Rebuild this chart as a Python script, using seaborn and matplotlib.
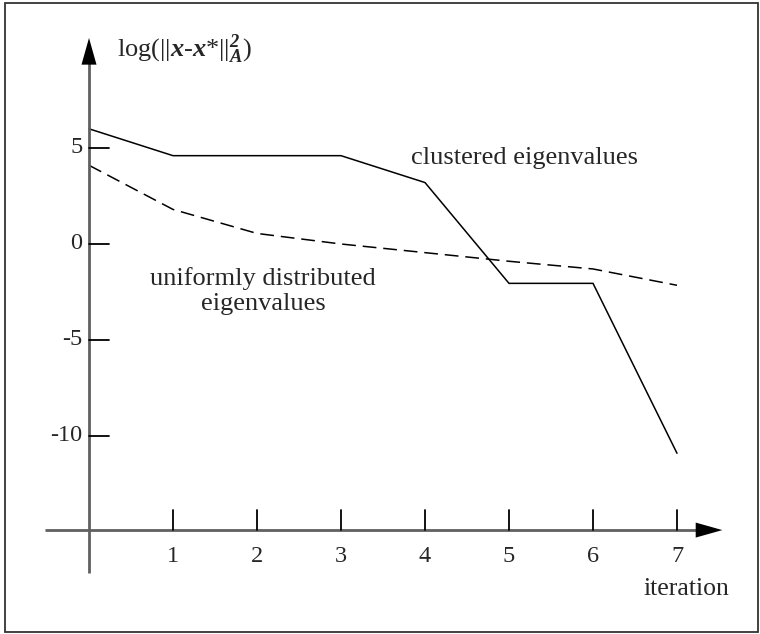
import matplotlib
matplotlib.use("Agg")
import matplotlib.pyplot as plt
from matplotlib.patches import Rectangle
import seaborn as sns
import pandas as pd

# Convergence of the error norm per iteration for two eigenvalue distributions
iterations = [0, 1, 2, 3, 4, 5, 6, 7]
clustered = [6.0, 4.6, 4.6, 4.6, 3.2, -2.05, -2.05, -10.9]
uniform = [4.1, 1.8, 0.55, 0.0, -0.45, -0.9, -1.3, -2.15]

x_ticks = [1, 2, 3, 4, 5, 6, 7]
y_ticks = [5, 0, -5, -10]
y_tick_labels = ["5", "0", "-5", "-10"]

sns.set_theme(style="white")
plt.rcParams["font.family"] = ["Liberation Serif", "DejaVu Serif"]
plt.rcParams["mathtext.fontset"] = "custom"
plt.rcParams["mathtext.rm"] = "Liberation Serif"
plt.rcParams["mathtext.it"] = "Liberation Serif:italic"
plt.rcParams["mathtext.bf"] = "Liberation Serif:bold"
plt.rcParams["mathtext.bfit"] = "Liberation Serif:italic:bold"

df = pd.DataFrame({"iteration": iterations * 2,
                   "value": clustered + uniform,
                   "kind": ["clustered"] * len(iterations) + ["uniform"] * len(iterations)})

fig = plt.figure(figsize=(7.6, 6.34), dpi=100)
ax = fig.add_axes([0, 0, 1, 1])
ax.set_xlim(-1.0595, 7.988)
ax.set_ylim(-20.3125, 12.708)
ax.axis("off")

sns.lineplot(data=df, x="iteration", y="value", style="kind",
             dashes={"clustered": "", "uniform": (9, 4.5)},
             color="black", linewidth=1.1, legend=False, ax=ax)

# Hand-drawn style axes with arrow heads
x_axis_y = -14.9
axis_color = "#606060"
ax.plot([-0.524, 7.3], [x_axis_y, x_axis_y], color=axis_color, lw=2, solid_capstyle="butt")
ax.annotate("", xy=(7.54, x_axis_y), xytext=(7.25, x_axis_y),
            arrowprops=dict(arrowstyle="-|>,head_length=1.6,head_width=0.45",
                            color="black", lw=0, shrinkA=0, shrinkB=0))
ax.plot([0, 0], [-17.13, 9.9], color=axis_color, lw=2, solid_capstyle="butt")
ax.annotate("", xy=(0, 10.73), xytext=(0, 9.3),
            arrowprops=dict(arrowstyle="-|>,head_length=1.6,head_width=0.45",
                            color="black", lw=0, shrinkA=0, shrinkB=0))

# Ticks
tick_dx = 20 / 84
tick_dy = 20 / 19.2
for t in x_ticks:
    ax.plot([t, t], [x_axis_y, x_axis_y + tick_dy], color="black", lw=1.3)
    ax.text(t, x_axis_y - 1.4, str(t), ha="center", va="center", fontsize=17.5)
for t, lab in zip(y_ticks, y_tick_labels):
    ax.plot([0, tick_dx], [t, t], color="black", lw=1.3)
    ax.text(-0.08, t, lab, ha="right", va="center", fontsize=17.5)

# Labels
ax.text(0.333, 9.74,
        r"log(||$\mathbfit{x}$-$\mathbfit{x}$*||${}_{\mathbfit{A}}^{\mathbfit{2}}$)",
        ha="left", va="baseline", fontsize=19)
ax.text(7.107, -17.97, "iteration", ha="center", va="center", fontsize=18.5)
ax.text(5.19, 4.48, "clustered eigenvalues", ha="center", va="center", fontsize=19)
ax.text(2.07, -2.45, "uniformly distributed\neigenvalues", ha="center", va="center",
        fontsize=19, linespacing=1.2)

# Outer frame
fig.patches.append(Rectangle((5 / 760, 2 / 634), 753 / 760, 629 / 634,
                             transform=fig.transFigure, fill=False,
                             edgecolor="#333333", lw=1.3))

fig.savefig("out.png", dpi=100)
